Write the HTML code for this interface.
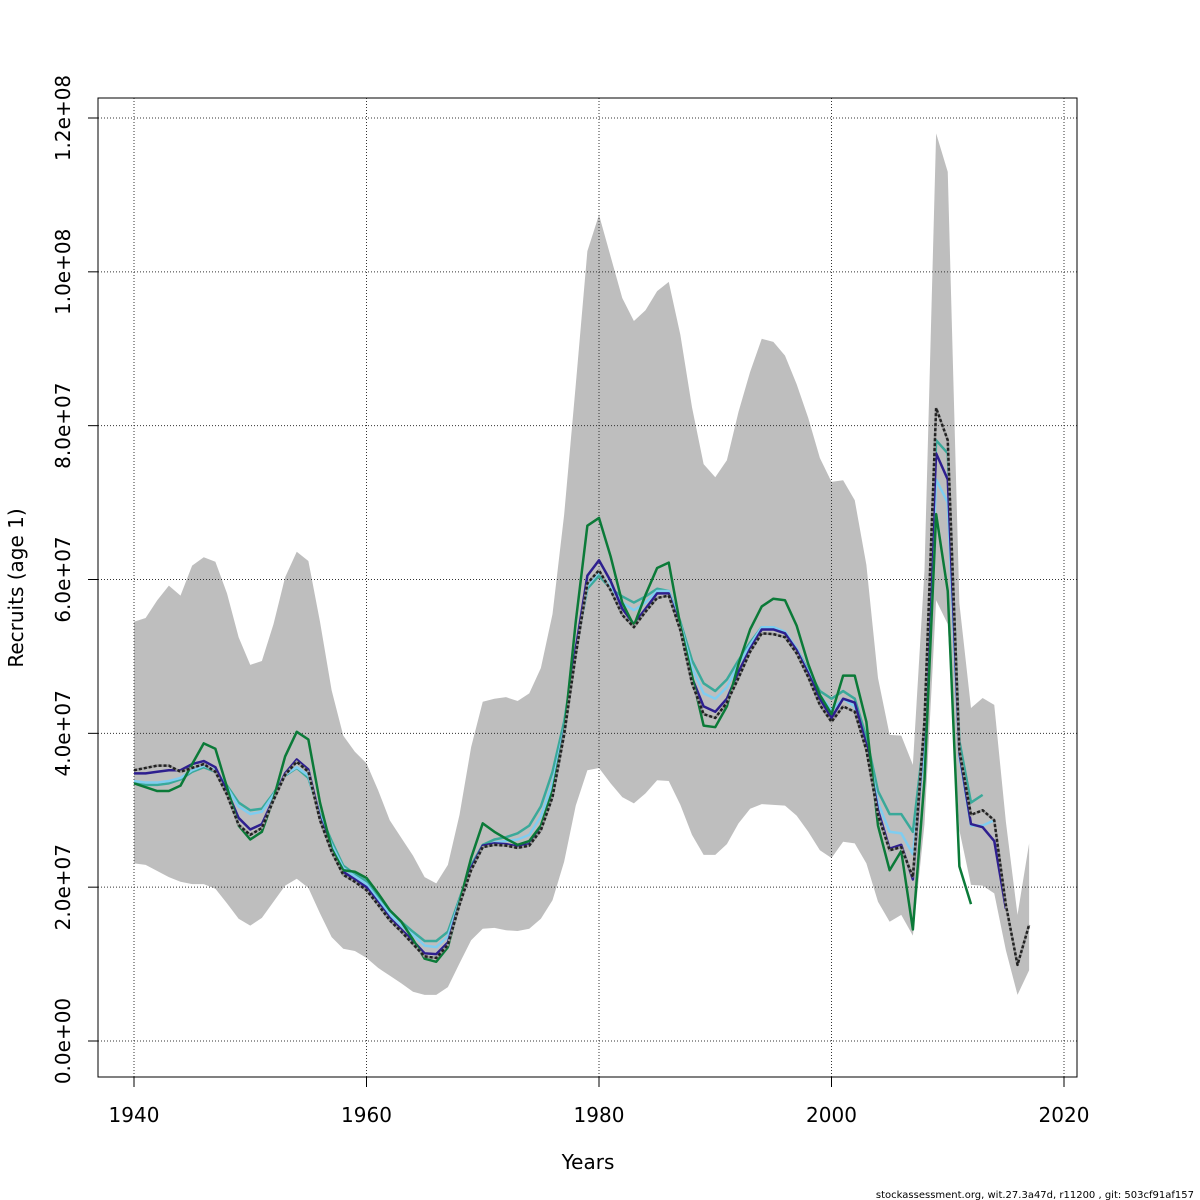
<!DOCTYPE html>
<html><head><meta charset="utf-8"><style>
body{margin:0;background:#fff;}
svg{display:block;font-family:"DejaVu Sans","Liberation Sans",sans-serif;}
</style></head><body>
<svg id="chart" width="1200" height="1200"></svg>
<script>
const years=[];for(let y=1940;y<=2017;y++)years.push(y);
const upper=[5.45,5.5,5.73,5.92,5.79,6.18,6.29,6.23,5.82,5.25,4.89,4.94,5.42,6.03,6.36,6.24,5.45,4.56,3.97,3.76,3.61,3.26,2.87,2.64,2.41,2.13,2.05,2.29,2.94,3.82,4.41,4.45,4.47,4.42,4.52,4.85,5.55,6.84,8.53,10.27,10.74,10.2,9.66,9.36,9.5,9.75,9.87,9.18,8.24,7.5,7.33,7.55,8.18,8.7,9.13,9.09,8.91,8.54,8.1,7.58,7.27,7.29,7.03,6.19,4.72,3.98,3.97,3.59,6.12,11.8,11.3,5.69,4.33,4.46,4.37,2.85,1.64,2.57];
const lower=[2.31,2.29,2.21,2.13,2.07,2.04,2.04,1.98,1.79,1.59,1.5,1.6,1.81,2.02,2.11,1.99,1.66,1.35,1.2,1.17,1.08,0.95,0.85,0.75,0.64,0.6,0.6,0.7,1.01,1.31,1.46,1.47,1.44,1.43,1.46,1.59,1.83,2.33,3.06,3.52,3.55,3.35,3.17,3.09,3.22,3.39,3.38,3.07,2.68,2.42,2.42,2.56,2.83,3.02,3.08,3.07,3.06,2.93,2.72,2.48,2.38,2.59,2.57,2.31,1.81,1.55,1.64,1.37,2.82,5.73,5.42,2.74,2.03,2.02,1.92,1.18,0.6,0.92];
const est=[3.52,3.55,3.58,3.58,3.5,3.55,3.6,3.5,3.2,2.81,2.68,2.77,3.13,3.46,3.63,3.5,2.87,2.46,2.16,2.07,1.96,1.77,1.57,1.42,1.26,1.1,1.08,1.25,1.77,2.22,2.52,2.55,2.54,2.51,2.54,2.74,3.17,3.98,5.02,5.95,6.12,5.86,5.54,5.38,5.58,5.76,5.79,5.34,4.65,4.25,4.2,4.4,4.72,5.06,5.3,5.29,5.25,5.04,4.73,4.37,4.15,4.35,4.28,3.78,2.94,2.48,2.52,2.13,4.17,8.23,7.81,3.78,2.94,3.0,2.87,1.77,0.99,1.51];
const peel1=[3.48,3.48,3.5,3.52,3.52,3.6,3.64,3.56,3.25,2.9,2.75,2.82,3.15,3.48,3.66,3.53,2.9,2.5,2.2,2.1,2.0,1.8,1.6,1.45,1.3,1.14,1.13,1.28,1.8,2.25,2.54,2.57,2.56,2.53,2.56,2.78,3.22,4.02,5.1,6.05,6.25,5.98,5.62,5.42,5.62,5.82,5.82,5.38,4.72,4.35,4.28,4.45,4.8,5.1,5.35,5.35,5.3,5.08,4.78,4.45,4.2,4.45,4.4,3.85,3.0,2.5,2.55,2.1,4.1,7.64,7.3,3.75,2.82,2.78,2.6,1.72];
const peel2=[3.38,3.36,3.36,3.38,3.42,3.52,3.58,3.52,3.3,3.05,2.95,2.98,3.2,3.46,3.56,3.45,2.93,2.55,2.25,2.14,2.04,1.84,1.65,1.5,1.38,1.24,1.22,1.36,1.82,2.25,2.52,2.58,2.6,2.62,2.68,2.92,3.35,4.05,5.05,5.92,6.1,5.9,5.7,5.6,5.7,5.85,5.85,5.42,4.85,4.52,4.45,4.6,4.9,5.15,5.38,5.38,5.32,5.1,4.8,4.5,4.3,4.45,4.35,3.85,3.1,2.72,2.7,2.43,3.8,7.3,7.0,3.7,2.8,2.8,2.87];
const peel3=[3.35,3.33,3.33,3.35,3.4,3.5,3.56,3.5,3.32,3.1,3.0,3.02,3.22,3.45,3.55,3.42,2.95,2.6,2.28,2.17,2.08,1.88,1.7,1.55,1.42,1.3,1.3,1.42,1.85,2.28,2.55,2.62,2.65,2.7,2.8,3.05,3.5,4.15,5.1,5.88,6.05,5.88,5.78,5.7,5.78,5.88,5.85,5.45,4.95,4.65,4.55,4.7,4.95,5.18,5.38,5.38,5.3,5.1,4.82,4.55,4.45,4.55,4.45,3.95,3.25,2.95,2.95,2.72,4.0,7.81,7.64,3.9,3.1,3.2];
const peel4=[3.35,3.3,3.25,3.25,3.32,3.6,3.87,3.8,3.3,2.8,2.62,2.72,3.15,3.7,4.02,3.92,3.1,2.5,2.22,2.2,2.12,1.92,1.7,1.55,1.32,1.07,1.03,1.22,1.8,2.38,2.83,2.72,2.63,2.55,2.6,2.8,3.25,4.0,5.45,6.7,6.8,6.3,5.7,5.4,5.8,6.15,6.22,5.4,4.75,4.1,4.08,4.35,4.9,5.35,5.65,5.75,5.73,5.4,4.9,4.5,4.25,4.75,4.75,4.15,2.8,2.22,2.47,1.45,3.4,6.85,5.85,2.27,1.78];
const xTicks=[1940,1960,1980,2000,2020];
const yTicks=[0,2,4,6,8,10,12];
const yTickLabels=["0.0e+00","2.0e+07","4.0e+07","6.0e+07","8.0e+07","1.0e+08","1.2e+08"];

const X=y=>134+(y-1940)*(1064-134)/80;
const Y=v=>1041-v*(1041-118)/12;
const svg=document.getElementById('chart');
const NS='http://www.w3.org/2000/svg';
function mk(tag,attrs,parent){const e=document.createElementNS(NS,tag);for(const k in attrs)e.setAttribute(k,attrs[k]);(parent||svg).appendChild(e);return e;}

let d='';years.forEach((y,i)=>{d+=(i?'L':'M')+X(y)+','+Y(upper[i]);});
for(let i=years.length-1;i>=0;i--)d+='L'+X(years[i])+','+Y(lower[i]);
const band=mk('path',{d:d+'Z',fill:'#bebebe',stroke:'none'});



xTicks.forEach(t=>{const g=mk('line',{x1:X(t),x2:X(t),y1:98,y2:1077,stroke:'#333','stroke-width':1,'stroke-dasharray':'1,2'});

});
yTicks.forEach(t=>{const g=mk('line',{x1:98,x2:1077,y1:Y(t),y2:Y(t),stroke:'#333','stroke-width':1,'stroke-dasharray':'1,2'});

});

function line(vals,color,w,name,dash){
  let p='';vals.forEach((v,i)=>{p+=(i?'L':'M')+X(years[i])+','+Y(v);});
  if(dash){const under=mk('path',{d:p,fill:'none',stroke:'#999','stroke-width':w});
    
    }
  const e=mk('path',{d:p,fill:'none',stroke:color,'stroke-width':w,'stroke-linejoin':'round'});
  if(dash)e.setAttribute('stroke-dasharray','3,2');
  
  
}
line(peel3,'#3aa99a',2.5,'retro-2013-line');
line(peel2,'#7fcdf0',2.5,'retro-2014-line');
line(peel1,'#2e1f8f',2.5,'retro-2015-line');
line(peel4,'#0b7a38',2.5,'retro-2012-line');
line(est,'#222',2.5,'estimate-line',true);

const box=mk('rect',{x:98,y:98,width:979,height:979,fill:'none',stroke:'#000','stroke-width':1});


xTicks.forEach(t=>{const tk=mk('line',{x1:X(t),x2:X(t),y1:1077,y2:1087,stroke:'#000'});


const tx=mk('text',{x:X(t),y:1122,'text-anchor':'middle','font-size':20});tx.textContent=t;

});
yTicks.forEach((t,i)=>{const tk=mk('line',{x1:88,x2:98,y1:Y(t),y2:Y(t),stroke:'#000'});


const tx=mk('text',{x:70,y:Y(t),'text-anchor':'middle','font-size':20,transform:`rotate(-90 70 ${Y(t)})`});tx.textContent=yTickLabels[i];

});
const xt=mk('text',{x:588,y:1169,'text-anchor':'middle','font-size':20});xt.textContent='Years';


const yt=mk('text',{x:23,y:588,'text-anchor':'middle','font-size':20,transform:'rotate(-90 23 588)'});yt.textContent='Recruits (age 1)';


const ft=mk('text',{x:1194,y:1198,'text-anchor':'end','font-size':10});ft.textContent='stockassessment.org, wit.27.3a47d, r11200 , git: 503cf91af157';


</script>
</body></html>
